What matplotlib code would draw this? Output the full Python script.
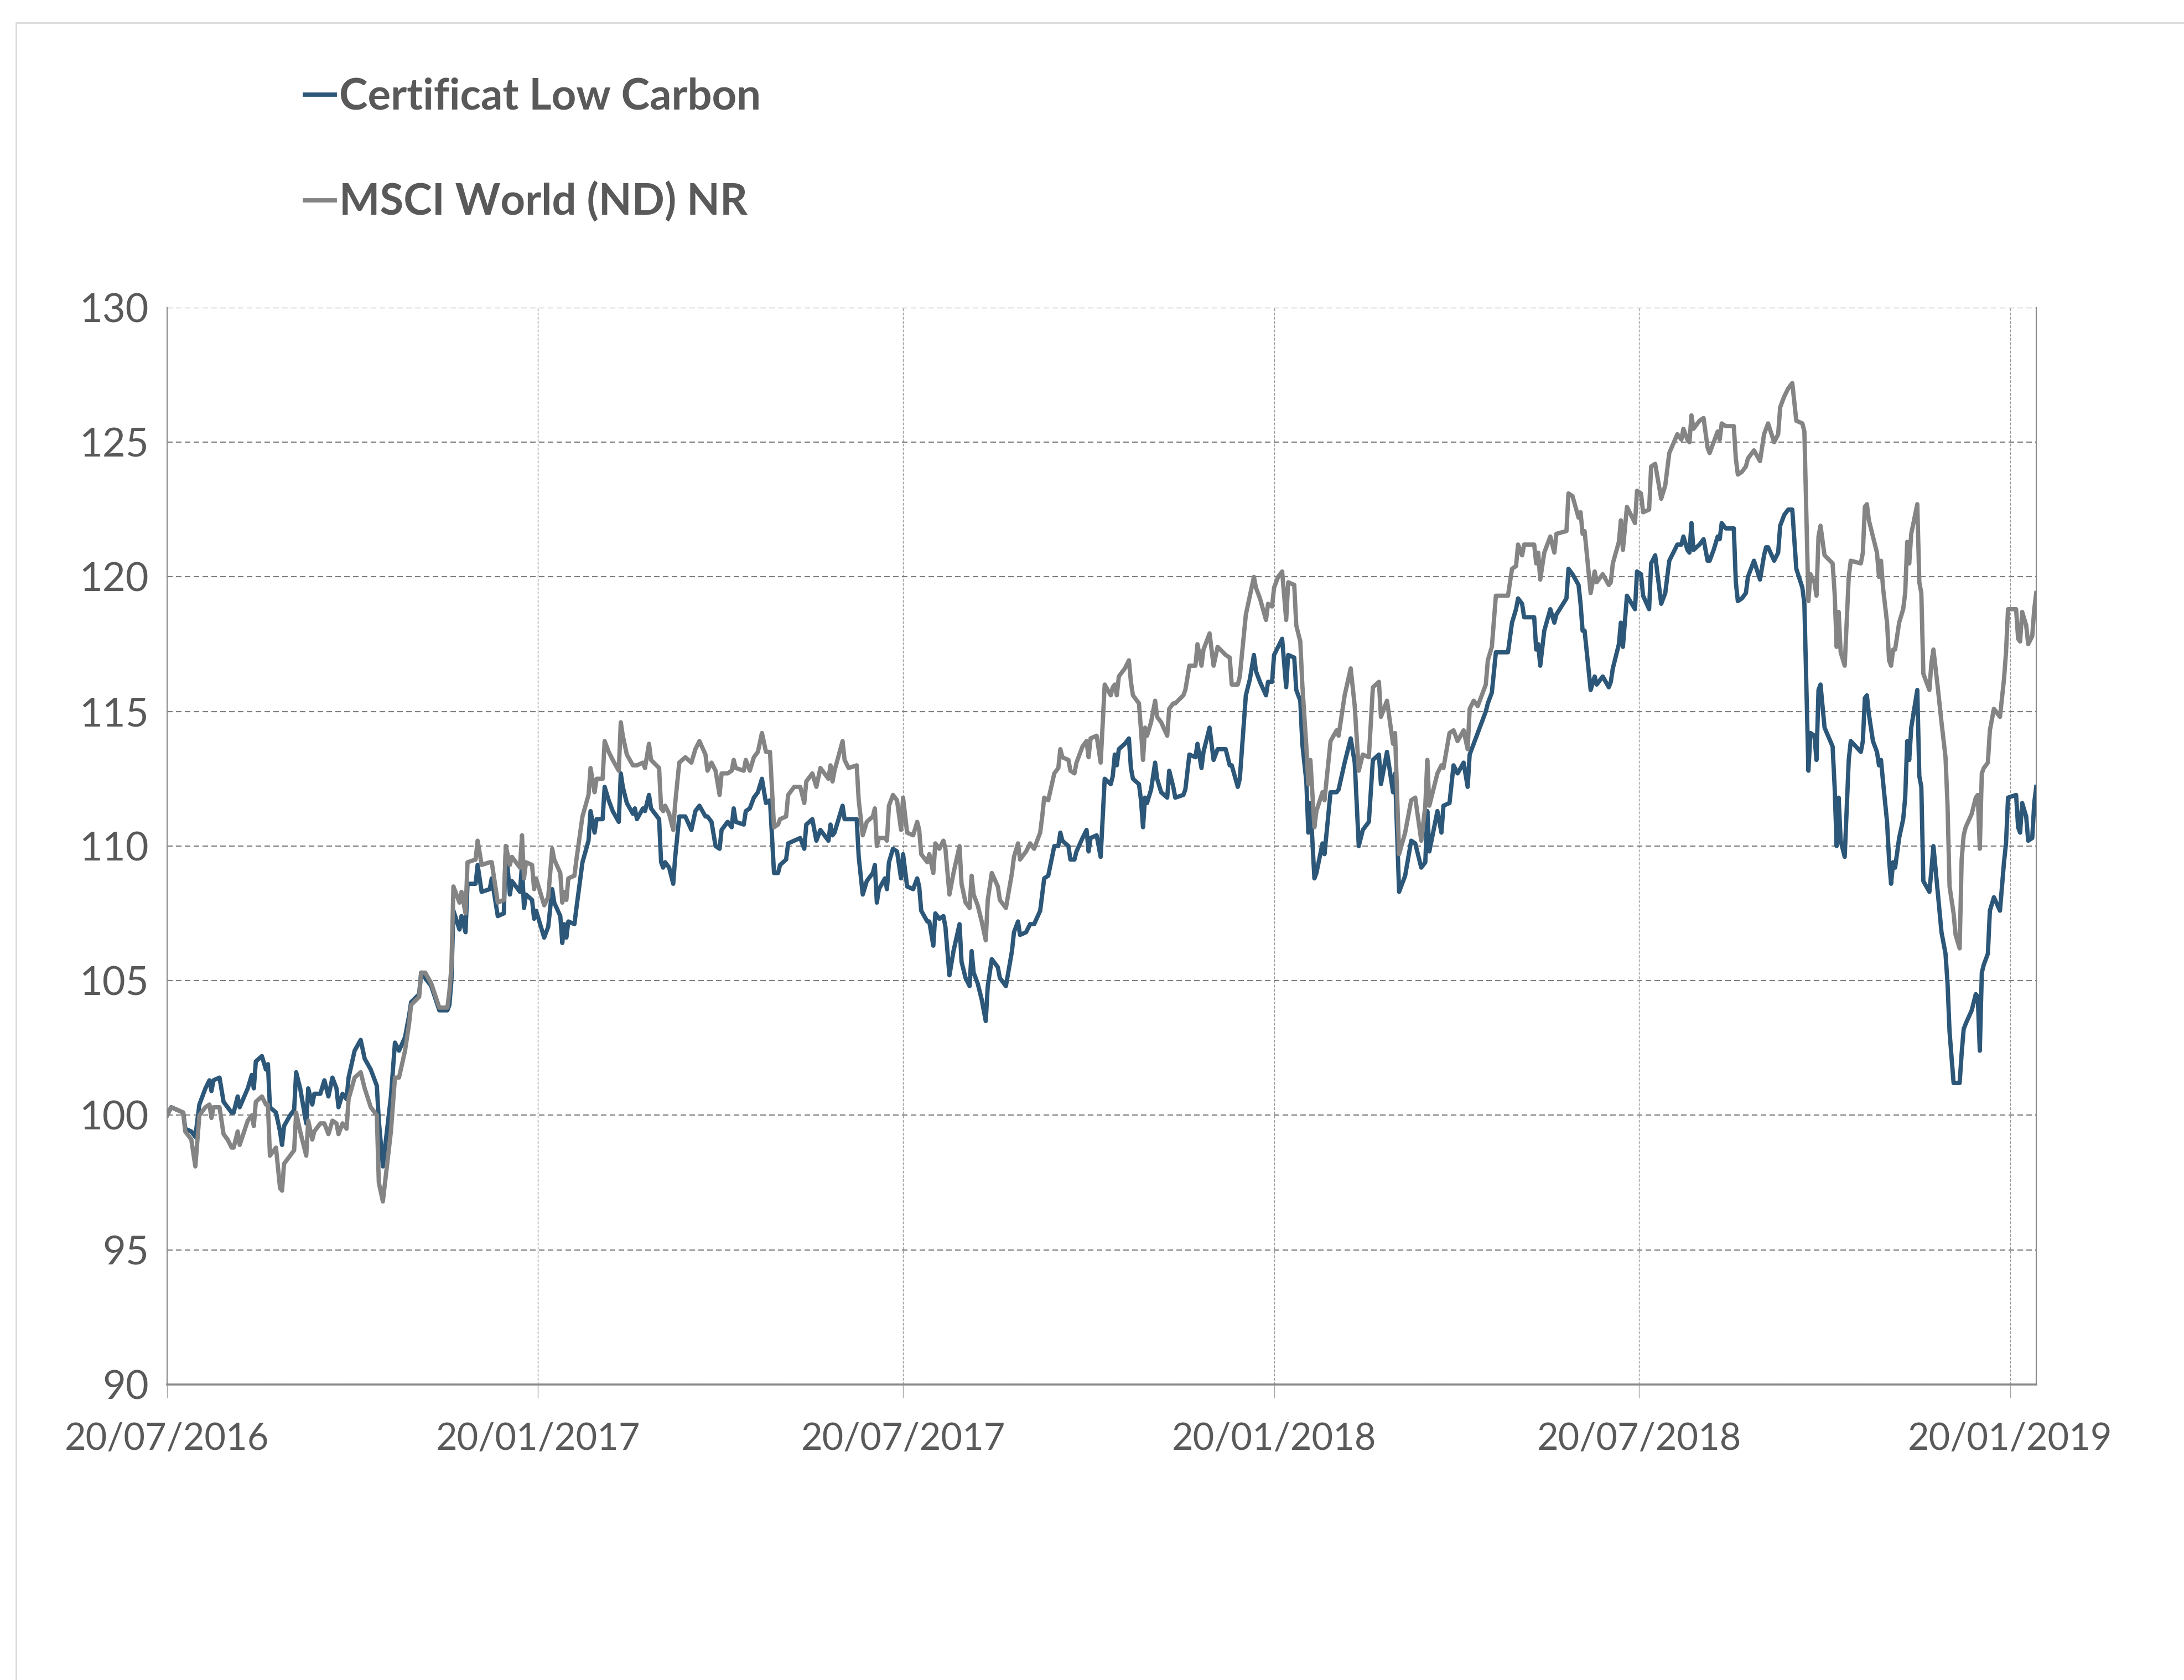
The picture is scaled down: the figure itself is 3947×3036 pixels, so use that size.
import matplotlib
matplotlib.use('Agg')
import matplotlib.pyplot as plt
import matplotlib.dates as mdates
import pandas as pd
from matplotlib.patches import Rectangle

# days since the first observation (20/07/2016)
START = pd.Timestamp('2016-07-20')
DAY_OFFSETS = [
    0, 2, 8, 9, 12, 14, 16, 19, 21, 22, 23, 26, 28, 30, 32, 33, 35, 36, 40, 42,
    43, 44, 47, 49, 50, 51, 54, 56, 57, 58, 61, 63, 64, 66, 69, 70, 72, 73, 76, 78,
    80, 82, 84, 85, 87, 89, 90, 93, 96, 98, 101, 104, 105, 107, 111, 113, 115, 118, 120, 121,
    125, 126, 128, 131, 135, 139, 140, 141, 142, 145, 146, 148, 149, 153, 154, 156, 160, 161, 164, 167,
    168, 170, 171, 173, 175, 176, 177, 178, 181, 182, 183, 187, 189, 191, 192, 195, 196, 197, 198, 199,
    202, 203, 206, 209, 210, 212, 213, 216, 217, 219, 221, 224, 225, 226, 228, 231, 232, 233, 236, 237,
    239, 240, 244, 245, 246, 247, 249, 251, 252, 254, 257, 260, 262, 264, 267, 268, 270, 272, 274, 275,
    278, 280, 281, 282, 286, 287, 289, 291, 293, 295, 297, 299, 301, 303, 304, 307, 308, 311, 314, 316,
    317, 320, 322, 324, 328, 329, 330, 331, 335, 336, 338, 342, 343, 345, 347, 350, 351, 352, 353, 356,
    357, 358, 360, 362, 364, 365, 367, 370, 372, 373, 374, 377, 378, 380, 381, 383, 385, 386, 388, 390,
    393, 394, 396, 398, 399, 400, 402, 404, 406, 407, 409, 412, 413, 416, 419, 420, 422, 423, 426, 428,
    430, 433, 434, 435, 437, 440, 442, 443, 444, 447, 448, 450, 451, 454, 456, 457, 458, 461, 463, 465,
    468, 469, 470, 471, 472, 475, 477, 478, 479, 482, 483, 484, 485, 486, 488, 490, 491, 493, 496, 497,
    499, 500, 504, 505, 507, 510, 511, 513, 514, 517, 519, 521, 525, 527, 528, 531, 532, 535, 537, 539,
    540, 542, 545, 546, 548, 549, 551, 553, 555, 556, 559, 560, 562, 563, 565, 566, 567, 569, 570, 573,
    574, 577, 580, 581, 584, 587, 589, 591, 593, 596, 598, 601, 602, 605, 608, 609, 611, 614, 617, 619,
    622, 624, 625, 626, 630, 632, 633, 636, 638, 640, 643, 645, 646, 648, 650, 654, 655, 657, 659, 665,
    667, 669, 670, 672, 673, 678, 679, 680, 681, 683, 686, 688, 689, 694, 695, 697, 700, 701, 702, 703,
    706, 708, 709, 711, 712, 715, 716, 717, 720, 721, 722, 724, 728, 729, 731, 732, 735, 736, 738, 741,
    743, 745, 749, 751, 752, 754, 755, 756, 757, 760, 762, 764, 765, 767, 769, 770, 771, 773, 777, 778,
    779, 781, 783, 784, 787, 790, 792, 793, 794, 797, 799, 800, 802, 804, 806, 808, 811, 812, 814, 815,
    817, 818, 819, 820, 822, 826, 827, 828, 829, 830, 832, 834, 835, 840, 841, 842, 843, 844, 846, 848,
    849, 850, 851, 853, 854, 855, 856, 857, 859, 861, 862, 863, 864, 865, 868, 869, 870, 871, 874, 875,
    876, 878, 880, 882, 883, 884, 886, 887, 889, 890, 891, 892, 895, 897, 898, 899, 900, 901, 903, 904,
    906, 909, 911, 912, 913, 917, 918, 919, 920, 922, 923, 925, 926, 927,
]

CERTIFICAT = [
    100.0, 100.3, 100.1, 99.5, 99.4, 99.2, 100.4, 101.0, 101.3, 100.9, 101.3, 101.4, 100.5, 100.3, 100.1, 100.1, 100.7, 100.3, 101.0, 101.5,
    101.0, 102.0, 102.2, 101.7, 101.9, 100.3, 100.1, 99.4, 98.9, 99.6, 100.0, 100.2, 101.6, 101.0, 99.7, 101.0, 100.4, 100.8, 100.8, 101.3,
    100.7, 101.4, 101.0, 100.3, 100.8, 100.6, 101.4, 102.4, 102.8, 102.1, 101.7, 101.1, 99.8, 98.1, 100.7, 102.7, 102.4, 102.9, 103.7, 104.2,
    104.5, 105.3, 105.1, 104.8, 103.9, 103.9, 104.1, 105.0, 107.6, 106.9, 107.4, 106.8, 108.6, 108.6, 109.3, 108.3, 108.4, 108.8, 107.4, 107.5,
    110.0, 108.2, 108.7, 108.5, 108.3, 109.3, 107.7, 108.2, 108.0, 107.3, 107.6, 106.6, 107.0, 108.4, 107.9, 107.4, 106.4, 107.1, 106.6, 107.2,
    107.1, 107.7, 109.4, 110.2, 111.3, 110.5, 111.0, 111.0, 112.2, 111.7, 111.3, 110.9, 112.7, 112.2, 111.6, 111.2, 111.4, 111.0, 111.4, 111.3,
    111.9, 111.4, 111.0, 109.4, 109.2, 109.4, 109.2, 108.6, 109.6, 111.1, 111.1, 110.6, 111.3, 111.5, 111.1, 111.1, 110.9, 110.0, 109.9, 110.6,
    110.9, 110.7, 111.4, 110.9, 110.8, 111.3, 111.4, 111.8, 112.0, 112.5, 111.6, 111.7, 109.0, 109.0, 109.3, 109.5, 110.1, 110.2, 110.3, 109.9,
    110.8, 111.0, 110.2, 110.6, 110.2, 110.8, 110.4, 110.5, 111.5, 111.0, 111.0, 111.0, 109.6, 108.2, 108.7, 109.0, 109.3, 107.9, 108.4, 108.8,
    108.4, 109.4, 109.9, 109.8, 108.8, 109.7, 108.5, 108.4, 108.8, 108.5, 107.6, 107.2, 107.2, 106.3, 107.5, 107.3, 107.4, 107.0, 105.2, 106.1,
    107.1, 105.7, 105.1, 104.8, 106.1, 105.3, 104.9, 104.3, 103.5, 104.8, 105.8, 105.5, 105.1, 104.8, 106.1, 106.8, 107.2, 106.7, 106.8, 107.1,
    107.1, 107.6, 108.2, 108.8, 108.9, 110.0, 110.0, 110.5, 110.2, 110.0, 109.5, 109.5, 109.8, 110.3, 110.6, 109.8, 110.3, 110.4, 109.6, 112.5,
    112.3, 112.6, 113.4, 113.0, 113.6, 113.8, 114.0, 112.9, 112.5, 112.3, 111.7, 110.7, 111.8, 111.6, 112.1, 113.1, 112.5, 112.0, 111.8, 112.8,
    112.2, 111.8, 111.9, 112.1, 113.4, 113.3, 113.8, 112.9, 113.5, 114.4, 113.2, 113.6, 113.6, 113.0, 113.0, 112.2, 112.5, 115.6, 116.2, 117.1,
    116.5, 116.1, 115.6, 116.1, 116.1, 117.1, 117.4, 117.7, 115.9, 117.1, 117.0, 115.8, 115.4, 113.8, 112.4, 110.5, 111.6, 108.8, 109.0, 110.1,
    109.7, 112.0, 112.0, 112.1, 113.1, 114.0, 113.1, 110.0, 110.6, 110.9, 113.2, 113.4, 112.3, 113.5, 112.0, 112.7, 108.3, 108.9, 110.2, 110.1,
    109.2, 109.4, 111.3, 109.8, 111.3, 110.5, 111.5, 111.6, 113.0, 112.7, 113.1, 112.2, 113.4, 113.8, 114.2, 115.0, 115.3, 115.7, 117.2, 117.2,
    118.3, 118.8, 119.2, 119.0, 118.5, 118.5, 117.3, 117.5, 116.7, 118.0, 118.8, 118.3, 118.6, 119.2, 120.3, 120.1, 119.7, 119.0, 118.0, 118.0,
    115.8, 116.3, 116.0, 116.2, 116.3, 115.9, 116.1, 116.6, 117.5, 118.3, 117.4, 119.3, 118.8, 120.2, 120.1, 119.3, 118.8, 120.5, 120.8, 119.0,
    119.4, 120.6, 121.2, 121.2, 121.5, 121.0, 120.9, 122.0, 121.0, 121.2, 121.4, 120.6, 120.6, 121.0, 121.5, 121.4, 122.0, 121.8, 121.8, 119.8,
    119.1, 119.2, 119.4, 120.0, 120.6, 119.9, 120.8, 121.1, 121.1, 120.6, 120.9, 121.9, 122.3, 122.5, 122.5, 120.3, 119.6, 119.0, 112.8, 114.2,
    114.1, 113.2, 115.8, 116.0, 114.4, 113.7, 112.2, 110.0, 111.8, 110.2, 109.6, 113.2, 113.9, 113.5, 113.9, 115.5, 115.6, 114.9, 113.9, 113.5,
    113.0, 113.2, 112.4, 110.9, 109.5, 108.6, 109.4, 109.2, 110.3, 111.0, 111.8, 113.9, 113.2, 114.4, 115.8, 112.6, 112.2, 108.7, 108.3, 109.1,
    110.0, 108.4, 106.8, 106.0, 104.9, 103.1, 101.2, 101.2, 101.2, 102.3, 103.2, 103.4, 103.9, 104.5, 104.4, 102.4, 105.3, 105.6, 106.0, 107.6,
    108.1, 107.6, 109.4, 110.1, 111.8, 111.9, 110.7, 110.5, 111.6, 111.1, 110.2, 110.3, 111.6, 112.2,
]

MSCI = [
    100.0, 100.3, 100.1, 99.4, 99.1, 98.1, 100.0, 100.3, 100.4, 99.9, 100.3, 100.3, 99.3, 99.1, 98.8, 98.8, 99.4, 98.9, 99.8, 100.0,
    99.6, 100.5, 100.7, 100.4, 100.4, 98.5, 98.8, 97.3, 97.2, 98.2, 98.5, 98.7, 100.1, 99.4, 98.5, 99.8, 99.1, 99.4, 99.7, 99.7,
    99.3, 99.8, 99.7, 99.3, 99.7, 99.5, 100.6, 101.4, 101.6, 101.0, 100.3, 100.0, 97.5, 96.8, 99.4, 101.4, 101.4, 102.4, 103.4, 104.1,
    104.4, 105.3, 105.3, 104.9, 104.0, 104.0, 104.6, 105.5, 108.5, 107.9, 108.3, 107.5, 109.4, 109.5, 110.2, 109.3, 109.4, 109.4, 107.9, 108.0,
    110.0, 109.3, 109.6, 109.4, 109.2, 110.4, 108.8, 109.4, 109.3, 108.4, 108.8, 107.8, 108.1, 109.9, 109.5, 109.0, 107.9, 108.3, 108.0, 108.8,
    108.9, 109.5, 111.1, 111.9, 112.9, 112.0, 112.5, 112.5, 113.9, 113.5, 113.2, 112.8, 114.6, 114.1, 113.4, 113.0, 113.0, 113.0, 113.1, 112.9,
    113.8, 113.2, 112.9, 111.4, 111.3, 111.5, 111.2, 110.6, 111.6, 113.1, 113.3, 113.1, 113.6, 113.9, 113.4, 112.8, 113.1, 112.8, 111.9, 112.7,
    112.7, 112.8, 113.2, 112.9, 112.8, 113.2, 112.8, 113.3, 113.5, 114.2, 113.5, 113.5, 110.7, 110.8, 111.0, 111.1, 111.9, 112.2, 112.2, 111.6,
    112.4, 112.7, 112.2, 112.9, 112.5, 113.0, 112.4, 112.8, 113.9, 113.2, 112.9, 113.0, 111.7, 110.4, 110.9, 111.1, 111.4, 110.0, 110.3, 110.3,
    110.2, 111.5, 111.9, 111.7, 110.6, 111.8, 110.5, 110.4, 110.9, 110.6, 109.7, 109.4, 109.7, 109.0, 110.1, 109.9, 110.2, 109.9, 108.2, 109.0,
    110.0, 108.6, 107.9, 107.7, 108.9, 108.2, 107.8, 107.2, 106.5, 108.0, 109.0, 108.5, 108.0, 107.7, 109.0, 109.6, 110.1, 109.5, 109.8, 110.1,
    109.9, 110.5, 111.1, 111.8, 111.7, 112.7, 112.9, 113.6, 113.3, 113.2, 112.8, 112.7, 113.1, 113.7, 113.9, 113.3, 114.0, 114.1, 113.1, 116.0,
    115.6, 115.9, 116.0, 115.6, 116.3, 116.6, 116.9, 116.1, 115.6, 115.3, 114.3, 113.2, 114.4, 114.1, 114.6, 115.4, 114.8, 114.6, 114.1, 115.1,
    115.3, 115.3, 115.6, 115.8, 116.7, 116.7, 117.5, 116.7, 117.3, 117.9, 116.7, 117.4, 117.1, 117.0, 116.0, 116.0, 116.3, 118.6, 119.3, 120.0,
    119.6, 119.2, 118.4, 119.0, 118.9, 119.6, 120.0, 120.2, 118.4, 119.8, 119.7, 118.2, 117.6, 116.0, 113.7, 112.3, 113.2, 110.7, 111.3, 112.0,
    111.7, 113.9, 114.3, 114.1, 115.6, 116.6, 115.2, 112.8, 113.4, 113.3, 115.9, 116.1, 114.8, 115.4, 113.8, 114.2, 109.7, 110.5, 111.7, 111.8,
    110.2, 111.5, 113.2, 111.5, 112.7, 113.0, 112.9, 114.2, 114.3, 113.9, 114.3, 113.6, 115.1, 115.4, 115.2, 116.0, 116.9, 117.4, 119.3, 119.3,
    120.3, 120.4, 121.2, 120.8, 121.2, 121.2, 120.5, 120.9, 119.9, 120.9, 121.5, 120.9, 121.6, 121.7, 123.1, 123.0, 122.2, 122.4, 121.6, 121.7,
    119.4, 120.2, 119.8, 120.0, 120.1, 119.7, 119.8, 120.5, 121.3, 122.1, 121.0, 122.6, 122.0, 123.2, 123.1, 122.4, 122.5, 124.1, 124.2, 122.9,
    123.4, 124.6, 125.3, 125.1, 125.5, 125.1, 125.0, 126.0, 125.5, 125.8, 125.9, 124.8, 124.6, 125.0, 125.4, 125.1, 125.7, 125.6, 125.6, 124.4,
    123.8, 123.9, 124.1, 124.4, 124.7, 124.3, 125.3, 125.5, 125.7, 125.0, 125.3, 126.3, 126.7, 127.0, 127.2, 125.8, 125.7, 125.4, 119.1, 120.1,
    119.8, 119.3, 121.5, 121.9, 120.8, 120.5, 119.4, 117.4, 118.7, 117.2, 116.7, 120.0, 120.6, 120.5, 120.9, 122.6, 122.7, 122.1, 121.5, 120.9,
    120.0, 120.6, 119.6, 118.3, 116.9, 116.7, 117.3, 117.3, 118.3, 118.8, 119.4, 121.3, 120.5, 121.6, 122.7, 119.8, 119.4, 116.4, 115.8, 116.8,
    117.3, 116.0, 114.6, 113.3, 111.5, 108.5, 107.5, 106.7, 106.2, 109.5, 110.4, 110.7, 111.2, 111.8, 111.9, 109.9, 112.7, 112.9, 113.1, 114.3,
    115.1, 114.8, 116.2, 117.2, 118.8, 118.8, 117.7, 117.6, 118.7, 118.2, 117.5, 117.8, 118.8, 119.4,
]

SERIES_NAMES = ['Certificat Low Carbon', 'MSCI World (ND) NR']
TICK_DATES = ['2016-07-20', '2017-01-20', '2017-07-20', '2018-01-20', '2018-07-20', '2019-01-20']
Y_TICKS = [90, 95, 100, 105, 110, 115, 120, 125, 130]

dates = START + pd.to_timedelta(DAY_OFFSETS, unit='D')

plt.rcParams['font.family'] = ['Lato', 'DejaVu Sans']

W, H = 3947, 3036
fig = plt.figure(figsize=(W / 100, H / 100), dpi=100)
fig.subplots_adjust(left=302 / W, right=3680 / W, bottom=1 - 2502 / H, top=1 - 556 / H)
ax = fig.add_subplot(1, 1, 1)

# light frame around the whole chart area
fig.patches.append(Rectangle((29 / W, -0.2), 1.5, 1.2 - 41 / H, transform=fig.transFigure,
                             fill=False, edgecolor='#d9d9d9', linewidth=2))

ax.plot(dates, CERTIFICAT, color='#2C5778', linewidth=5.6, label=SERIES_NAMES[0], zorder=3)
ax.plot(dates, MSCI, color='#848484', linewidth=5.6, label=SERIES_NAMES[1], zorder=4)

ax.set_xlim(dates[0], dates[-1])
ax.set_ylim(90, 130)
ax.set_yticks(Y_TICKS)
ax.set_xticks(pd.to_datetime(TICK_DATES))
ax.xaxis.set_major_formatter(mdates.DateFormatter('%d/%m/%Y'))

ax.set_axisbelow(True)
ax.yaxis.grid(True, color='#808080', linewidth=1.6, linestyle=(0, (4.5, 2.7)))
ax.xaxis.grid(True, color='#959595', linewidth=1.0, linestyle=(0, (3.5, 2)))

for side in ['left', 'right']:
    ax.spines[side].set_color('#8c8c8c')
    ax.spines[side].set_linewidth(1.5)
ax.spines['bottom'].set_color('#8c8c8c')
ax.spines['bottom'].set_linewidth(2.6)
ax.spines['top'].set_visible(False)

ax.tick_params(axis='x', direction='out', length=17, width=1, color='#a6a6a6',
               labelsize=48, labelcolor='#595959', pad=32)
ax.tick_params(axis='y', length=0, labelsize=52, labelcolor='#595959', pad=24)

leg = ax.legend(loc='upper left', bbox_to_anchor=(551 / W, 1 - 140 / H), bbox_transform=fig.transFigure,
                frameon=False, prop={'weight': 'bold', 'size': 56}, handlelength=0.7,
                handletextpad=0.1, labelspacing=1.5, borderpad=0, borderaxespad=0)
for text in leg.get_texts():
    text.set_color('#595959')

fig.savefig('out.png', dpi=100, facecolor='white')
